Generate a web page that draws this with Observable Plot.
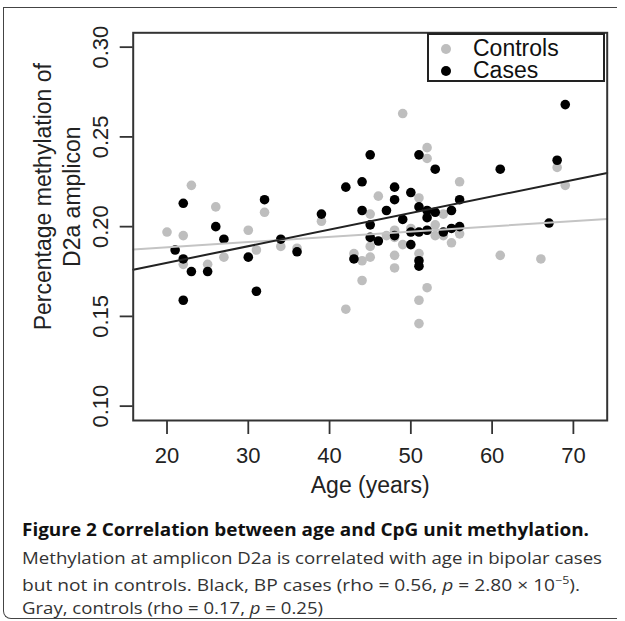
<!DOCTYPE html>
<html><head><meta charset="utf-8">
<script src="https://cdn.jsdelivr.net/npm/d3@7"></script>
<script src="https://cdn.jsdelivr.net/npm/@observablehq/plot@0.6"></script>
<style>
html,body{margin:0;padding:0;background:#fff;}
body{width:625px;height:621px;position:relative;overflow:hidden;font-family:"Liberation Sans",Arial,sans-serif;}
#card{position:absolute;left:3px;top:7px;width:614px;height:612px;border-top:1.5px solid #444;border-left:1.5px solid #444;border-bottom:1.5px solid #444;border-bottom-left-radius:8px;box-sizing:border-box;}
#chart{position:absolute;left:0;top:0;}
#legend{position:absolute;left:427px;top:33px;width:178px;height:49px;border:2px solid #222;box-sizing:border-box;background:#fff;}
.lg{position:absolute;left:0;height:22px;width:100%;}
.lg .dot{position:absolute;left:12px;top:6px;width:10px;height:10px;border-radius:50%;}
.lg .t{position:absolute;left:44px;top:0px;font-size:23px;line-height:21px;height:21px;color:#111;}
.cap{position:absolute;left:22px;white-space:nowrap;font-family:"Open Sans",sans-serif;font-size:17px;color:#333;transform-origin:0 50%;}
.cap b{color:#111;}
</style>
</head><body>
<div id="card"></div>
<div id="chart"></div>
<div id="legend">
  <div class="lg" style="top:3px"><div class="dot" style="background:#bebebe"></div><div class="t">Controls</div></div>
  <div class="lg" style="top:25px"><div class="dot" style="background:#000"></div><div class="t">Cases</div></div>
</div>
<div class="cap" id="c1" style="top:518px"><b>Figure 2 Correlation between age and CpG unit methylation.</b></div>
<div class="cap" id="c2" style="top:546px">Methylation at amplicon D2a is correlated with age in bipolar cases</div>
<div class="cap" id="c3" style="top:572px">but not in controls. Black, BP cases (rho = 0.56, <i>p</i> = 2.80 × 10<sup style="font-size:11px">−5</sup>).</div>
<div class="cap" id="c4" style="top:596px">Gray, controls (rho = 0.17, <i>p</i> = 0.25)</div>
<script>
const controlAge  = [20,22,22,23,25,26,27,30,31,32,34,36,39,42,43,44,44,45,45,45,46,47,48,48,48,48,48,49,49,50,51,51,51,51,52,52,52,53,53,54,54,55,56,56,61,66,68,69];
const controlMeth = [0.197,0.195,0.179,0.223,0.179,0.211,0.183,0.198,0.187,0.208,0.189,0.188,0.203,0.154,0.185,0.181,0.170,0.207,0.189,0.183,0.217,0.195,0.198,0.197,0.194,0.184,0.177,0.263,0.190,0.199,0.216,0.185,0.159,0.146,0.244,0.238,0.166,0.201,0.195,0.207,0.195,0.191,0.225,0.196,0.184,0.182,0.233,0.223];
const caseAge  = [21,22,22,22,23,25,26,27,30,31,32,34,36,39,42,43,44,44,45,45,45,46,47,48,48,48,49,50,50,50,51,51,51,51,51,52,52,52,53,53,54,55,55,56,56,61,67,68,69];
const caseMeth = [0.187,0.213,0.182,0.159,0.175,0.175,0.200,0.193,0.183,0.164,0.215,0.193,0.186,0.207,0.222,0.182,0.225,0.209,0.240,0.201,0.194,0.192,0.209,0.222,0.215,0.195,0.204,0.219,0.197,0.190,0.240,0.211,0.197,0.181,0.178,0.209,0.205,0.198,0.232,0.208,0.197,0.209,0.199,0.215,0.200,0.232,0.202,0.237,0.268];
// fitted lines (intercept, slope)
const caseFit = [0.1614, 0.000924];
const controlFit = [0.1826, 0.000293];
const xTicks = [20,30,40,50,60,70];
const yTicks = [0.10,0.15,0.20,0.25,0.30];
const xDomain = [15.84, 74.16];
const yDomain = [0.092, 0.308];

const controls = controlAge.map((a,i)=>({age:a, meth:controlMeth[i]}));
const cases = caseAge.map((a,i)=>({age:a, meth:caseMeth[i]}));
const fitLine = f => xDomain.map(a=>({age:a, meth:f[0]+f[1]*a}));

const plot = Plot.plot({
  width:625, height:505,
  marginLeft:132.7, marginRight:18.3, marginTop:32.3, marginBottom:85,
  style:{fontFamily:'"Liberation Sans",Arial,sans-serif', color:"#222", background:"transparent"},
  x:{domain:xDomain},
  y:{domain:yDomain},
  marks:[
    Plot.dot(controls,{x:"age",y:"meth",r:4.8,fill:"#bebebe",stroke:"none"}),
    Plot.dot(cases,{x:"age",y:"meth",r:4.8,fill:"#000",stroke:"none"}),
    Plot.line(fitLine(controlFit),{x:"age",y:"meth",stroke:"#c4c4c4",strokeWidth:2}),
    Plot.line(fitLine(caseFit),{x:"age",y:"meth",stroke:"#222",strokeWidth:2}),
    Plot.frame({stroke:"#333",strokeWidth:2}),
    Plot.axisX(xTicks,{tickSize:14,tickPadding:13,fontSize:22,label:null,strokeWidth:1.8,stroke:"#333"}),
    Plot.axisY(yTicks,{tickSize:13,tickFormat:()=>"",label:null,strokeWidth:1.8,stroke:"#333"}),
    Plot.text(yTicks,{y:d=>d,frameAnchor:"left",dx:-32.7,rotate:-90,text:d=>d.toFixed(2),fontSize:22,textAnchor:"middle",lineAnchor:"middle",fill:"#222"}),
    Plot.text(["Age (years)"],{frameAnchor:"bottom",dy:65,fontSize:23,textAnchor:"middle",lineAnchor:"middle",fill:"#222"}),
    Plot.text(["Percentage methylation of\nD2a amplicon"],{frameAnchor:"left",dx:-76.7,dy:-30,rotate:-90,fontSize:23,lineHeight:1.22,textAnchor:"middle",lineAnchor:"middle",fill:"#222"})
  ]
});
document.getElementById("chart").appendChild(plot);

const targets = {c1:567,c2:580,c3:558,c4:301};
for (const id in targets){
  const el = document.getElementById(id);
  const w = el.getBoundingClientRect().width;
  el.style.transform = `scaleX(${targets[id]/w})`;
}
</script>
</body></html>
